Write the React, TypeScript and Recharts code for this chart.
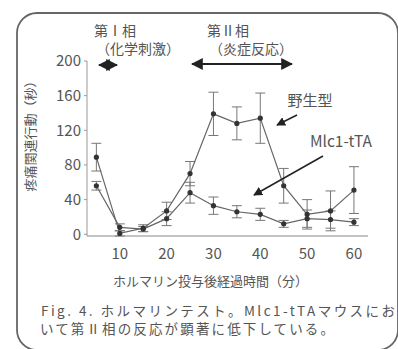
import { LineChart, Line, XAxis, YAxis, ErrorBar } from "recharts";

// minutes after formalin injection
const minutes = [5, 10, 15, 20, 25, 30, 35, 40, 45, 50, 55, 60];
// 野生型 (wild type) mean / SEM, seconds
const wildMean = [89, 1, 7, 27, 70, 139, 128, 134, 56, 23, 27, 51];
const wildErr = [16, 3, 4, 10, 14, 25, 19, 29, 20, 17, 23, 27];
// Mlc1-tTA mean / SEM
const mlcMean = [56, 8, 6, 18, 48, 33, 26, 23, 12, 18, 17, 14];
const mlcErr = [5, 4, 3, 8, 12, 10, 7, 7, 4, 10, 10, 4];

const yTicks = [0, 40, 80, 120, 160, 200];
const xTicks = [10, 20, 30, 40, 50, 60];

const data = minutes.map((t, i) => ({
  t,
  wild: wildMean[i],
  wildErr: wildErr[i],
  mlc: mlcMean[i],
  mlcErr: mlcErr[i],
}));

const FONT = '"Noto Sans CJK JP", "Noto Sans", sans-serif';
const TEXT = "#555";

export default function App() {
  return (
    <div style={{ position: "absolute", left: 0, top: 0, width: 398, height: 349, background: "#fff", fontFamily: FONT }}>
      <LineChart
        width={398}
        height={349}
        data={data}
        margin={{ top: 61, right: 30, bottom: 83, left: 37 }}
      >
        <XAxis
          dataKey="t"
          type="number"
          domain={[3, 63]}
          ticks={xTicks}
          stroke="#888"
          tickLine={false}
          height={30}
          tick={{ fill: TEXT, fontSize: 15, fontFamily: FONT }}
          tickMargin={6}
        />
        <YAxis
          domain={[0, 200]}
          ticks={yTicks}
          width={50}
          stroke="#999"
          tickSize={3}
          tick={{ fill: TEXT, fontSize: 15, fontFamily: FONT }}
          tickMargin={3}
        />
        <Line
          dataKey="wild"
          stroke="#666"
          strokeWidth={1.2}
          dot={{ r: 2, fill: "#333", stroke: "#333" }}
          isAnimationActive={false}
        >
          <ErrorBar dataKey="wildErr" direction="y" width={5} stroke="#777" strokeWidth={1} />
        </Line>
        <Line
          dataKey="mlc"
          stroke="#666"
          strokeWidth={1.2}
          dot={{ r: 2, fill: "#333", stroke: "#333" }}
          isAnimationActive={false}
        >
          <ErrorBar dataKey="mlcErr" direction="y" width={5} stroke="#777" strokeWidth={1} />
        </Line>
      </LineChart>

      <svg
        width={398}
        height={349}
        style={{ position: "absolute", left: 0, top: 0, pointerEvents: "none" }}
        fontFamily={FONT}
      >
        <defs>
          <marker id="head" viewBox="0 0 10 10" refX="9" refY="5" markerWidth="6" markerHeight="6" orient="auto-start-reverse">
            <path d="M0,0 L10,5 L0,10 z" fill="#222" />
          </marker>
        </defs>
        <rect x={17} y={13} width={381} height={337} rx={20} fill="none" stroke="#666" strokeWidth={1.8} />

        <text x={115} y={36} fontSize={14} fill={TEXT} textAnchor="middle">第Ⅰ相</text>
        <text x={138} y={54} fontSize={14} fill={TEXT} textAnchor="middle">（化学刺激）</text>
        <text x={228} y={36} fontSize={14} fill={TEXT} textAnchor="middle">第Ⅱ相</text>
        <text x={251} y={54} fontSize={14} fill={TEXT} textAnchor="middle">（炎症反応）</text>
        <line x1={99} y1={65} x2={117} y2={65} stroke="#222" strokeWidth={2} markerStart="url(#head)" markerEnd="url(#head)" />
        <line x1={192} y1={64} x2={292} y2={64} stroke="#222" strokeWidth={2} markerStart="url(#head)" markerEnd="url(#head)" />

        <text
          x={31}
          y={133}
          fontSize={13}
          fill={TEXT}
          textAnchor="middle"
          transform="rotate(-90 31 133)"
          dominantBaseline="middle"
        >
          疼痛関連行動（秒）
        </text>

        <text x={310} y={106} fontSize={15} fill={TEXT} textAnchor="middle">野生型</text>
        <line x1={297} y1={115} x2={277} y2={125} stroke="#222" strokeWidth={1.5} markerEnd="url(#head)" />
        <text x={341} y={147} fontSize={15.5} fill={TEXT} textAnchor="middle">Mlc1-tTA</text>
        <line x1={323} y1={156} x2={254} y2={195} stroke="#222" strokeWidth={1.5} markerEnd="url(#head)" />

        <text x={113} y={286} fontSize={13} fill={TEXT}>ホルマリン投与後経過時間（分）</text>
        <text x={41} y={316} fontSize={13.5} fill={TEXT} textLength={354} lengthAdjust="spacing">
          Fig. 4. ホルマリンテスト。Mlc1-tTAマウスにお
        </text>
        <text x={40} y={334} fontSize={13.5} fill={TEXT} textLength={294} lengthAdjust="spacing">
          いて第Ⅱ相の反応が顕著に低下している。
        </text>
      </svg>
    </div>
  );
}
